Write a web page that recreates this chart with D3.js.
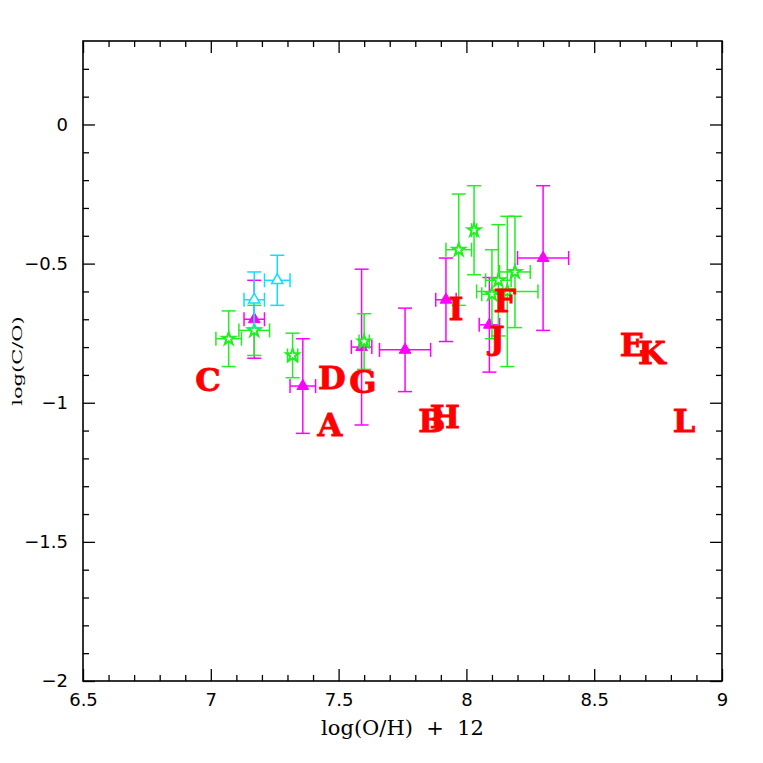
<!DOCTYPE html>
<meta charset="utf-8">
<script src="https://d3js.org/d3.v7.min.js"></script>
<style>
    body { margin: 0; background: #fff; }
    .tick text { font-family: "DejaVu Sans", sans-serif; font-size: 18px; fill: #000; }
    .tick line { stroke: #000; stroke-width: 1.3; }
    .domain { display: none; }
    .axis-label { font-family: "DejaVu Serif", serif; font-size: 21px; white-space: pre; }
    .letter { font-family: "DejaVu Serif", serif; font-weight: bold; font-size: 32px; fill: #ff0000; stroke: #ff0000; stroke-width: 0.8; }
</style>
<div id="chart"></div>
<script>

    // magenta filled triangles: log(O/H)+12, log(C/O), x error, y error
    var magX  = [7.17, 7.36, 7.59, 7.76, 7.92, 8.09, 8.30];
    var magY  = [-0.70, -0.94, -0.80, -0.81, -0.63, -0.72, -0.48];
    var magXe = [0.04, 0.05, 0.04, 0.10, 0.04, 0.04, 0.10];
    var magYe = [0.14, 0.17, 0.28, 0.15, 0.15, 0.17, 0.26];

    // cyan open triangles
    var cyanX  = [7.26, 7.17];
    var cyanY  = [-0.56, -0.63];
    var cyanXe = [0.05, 0.04];
    var cyanYe = [0.09, 0.10];

    // green stars
    var starX  = [7.07, 7.17, 7.32, 7.60, 7.97, 8.03, 8.10, 8.125, 8.16, 8.19];
    var starY  = [-0.77, -0.74, -0.83, -0.78, -0.45, -0.38, -0.61, -0.56, -0.60, -0.53];
    var starXe = [0.05, 0.06, 0.02, 0.02, 0.05, 0.01, 0.04, 0.05, 0.12, 0.06];
    var starYe = [0.10, 0.09, 0.08, 0.10, 0.20, 0.16, 0.16, 0.20, 0.27, 0.20];

    // red letter labels
    var letters = ["A", "B", "C", "D", "E", "F", "G", "H", "I", "J", "K", "L"];
    var letterX = [7.466, 7.865, 6.989, 7.474, 8.648, 8.15, 7.595, 7.916, 7.959, 8.12, 8.726, 8.851];
    var letterY = [-1.077, -1.062, -0.918, -0.911, -0.792, -0.631, -0.925, -1.048, -0.66, -0.767, -0.821, -1.062];

    var xMajor = [6.5, 7, 7.5, 8, 8.5, 9];
    var yMajor = [-2, -1.5, -1, -0.5, 0];

    var W = 763, H = 763;
    var pLeft = 83, pRight = 722, pTop = 41, pBottom = 681;

    var svg = d3.select("#chart").append("svg")
        .attr("width", W)
        .attr("height", H);

    var x = d3.scaleLinear().domain([6.5, 9]).range([pLeft, pRight]);
    var y = d3.scaleLinear().domain([-2, 0.3]).range([pBottom, pTop]);

    var xMinor = d3.range(6.6, 9, 0.1).filter(function(v) { return Math.abs(v * 2 - Math.round(v * 2)) > 1e-6; });
    var yMinor = d3.range(-1.9, 0.3, 0.1).filter(function(v) { return Math.abs(v * 2 - Math.round(v * 2)) > 1e-6; });
    var fmt = function(d) { return d3.format("")(d).replace("-", "\u2212"); };

    // axes, ticks pointing inward on all four sides
    svg.append("g").attr("transform", "translate(0," + pBottom + ")")
        .call(d3.axisBottom(x).tickValues(xMajor).tickSize(-12).tickPadding(12).tickFormat(fmt));
    svg.append("g").attr("transform", "translate(0," + pBottom + ")")
        .call(d3.axisBottom(x).tickValues(xMinor).tickSize(-6).tickFormat(""));
    svg.append("g").attr("transform", "translate(0," + pTop + ")")
        .call(d3.axisTop(x).tickValues(xMajor).tickSize(-12).tickFormat(""));
    svg.append("g").attr("transform", "translate(0," + pTop + ")")
        .call(d3.axisTop(x).tickValues(xMinor).tickSize(-6).tickFormat(""));

    svg.append("g").attr("transform", "translate(" + pLeft + ",0)")
        .call(d3.axisLeft(y).tickValues(yMajor).tickSize(-12).tickPadding(15).tickFormat(fmt));
    svg.append("g").attr("transform", "translate(" + pLeft + ",0)")
        .call(d3.axisLeft(y).tickValues(yMinor).tickSize(-6).tickFormat(""));
    svg.append("g").attr("transform", "translate(" + pRight + ",0)")
        .call(d3.axisRight(y).tickValues(yMajor).tickSize(-12).tickFormat(""));
    svg.append("g").attr("transform", "translate(" + pRight + ",0)")
        .call(d3.axisRight(y).tickValues(yMinor).tickSize(-6).tickFormat(""));

    svg.append("rect")
        .attr("x", pLeft).attr("y", pTop)
        .attr("width", pRight - pLeft).attr("height", pBottom - pTop)
        .attr("fill", "none").attr("stroke", "#000").attr("stroke-width", 1.6);

    // axis labels
    svg.append("text").attr("class", "axis-label")
        .attr("x", (pLeft + pRight) / 2).attr("y", 735)
        .attr("text-anchor", "middle")
        .text("log(O/H)  +  12");
    svg.append("text").attr("class", "axis-label")
        .attr("transform", "translate(22," + ((pTop + pBottom) / 2) + ") rotate(-90) scale(1,0.62)")
        .attr("text-anchor", "middle")
        .text("log(C/O)");

    var cap = 7;

    function errorBars(xs, ys, xe, ye, color) {
        var g = svg.append("g").attr("stroke", color).attr("stroke-width", 1.5).attr("fill", "none");
        xs.forEach(function(xv, i) {
            var cx = x(xv), cy = y(ys[i]);
            var y0 = y(ys[i] - ye[i]), y1 = y(ys[i] + ye[i]);
            var x0 = x(xv - xe[i]), x1 = x(xv + xe[i]);
            g.append("line").attr("x1", cx).attr("x2", cx).attr("y1", y0).attr("y2", y1);
            g.append("line").attr("x1", cx - cap).attr("x2", cx + cap).attr("y1", y0).attr("y2", y0);
            g.append("line").attr("x1", cx - cap).attr("x2", cx + cap).attr("y1", y1).attr("y2", y1);
            g.append("line").attr("x1", x0).attr("x2", x1).attr("y1", cy).attr("y2", cy);
            g.append("line").attr("x1", x0).attr("x2", x0).attr("y1", cy - cap).attr("y2", cy + cap);
            g.append("line").attr("x1", x1).attr("x2", x1).attr("y1", cy - cap).attr("y2", cy + cap);
        });
    }

    function markers(xs, ys, type, size, color, filled, sw) {
        svg.append("g").selectAll("path")
            .data(xs)
            .enter()
            .append("path")
            .attr("transform", function(d, i) { return "translate(" + x(d) + "," + y(ys[i]) + ")"; })
            .attr("d", d3.symbol().type(type).size(size))
            .attr("fill", filled ? color : "#fff")
            .attr("stroke", color)
            .attr("stroke-width", sw);
    }

    errorBars(magX, magY, magXe, magYe, "#ff00ff");
    markers(magX, magY, d3.symbolTriangle, 60, "#ff00ff", true, 1);

    errorBars(starX, starY, starXe, starYe, "#22ee22");
    markers(starX, starY, d3.symbolStar, 50, "#22ee22", false, 2);

    errorBars(cyanX, cyanY, cyanXe, cyanYe, "#11ddff");
    markers(cyanX, cyanY, d3.symbolTriangle, 55, "#11ddff", false, 1.5);

    svg.append("g").selectAll("text")
        .data(letters)
        .enter()
        .append("text")
        .attr("class", "letter")
        .attr("x", function(d, i) { return x(letterX[i]); })
        .attr("y", function(d, i) { return y(letterY[i]); })
        .attr("dy", "0.36em")
        .attr("text-anchor", "middle")
        .text(function(d) { return d; });

</script>
